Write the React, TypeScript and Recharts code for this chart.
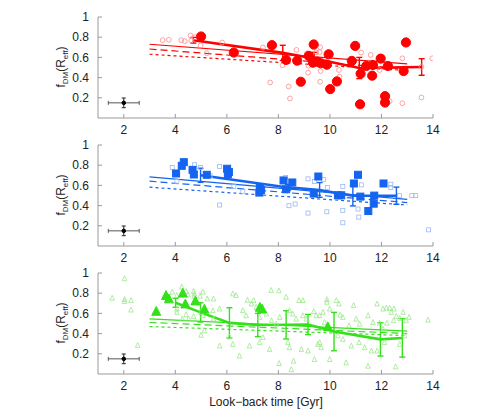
import React from "react"
import { ComposedChart, Scatter, Line, XAxis, YAxis, ErrorBar } from "recharts"

type Pt = [number, number]

const xTicks = [2, 4, 6, 8, 10, 12, 14]
const yTicks = [0.2, 0.4, 0.6, 0.8, 1]

// typical uncertainty marker (same in all panels)
const typicalPoint = [{ x: 2, y: 0.15, ex: 0.6, ey: 0.048 }]

// ---- red panel ----
const redFilled: Pt[] = [
  [5.0, 0.807], [6.27, 0.648], [7.75, 0.721], [8.3, 0.575], [8.73, 0.568], [8.87, 0.359],
  [9.18, 0.615], [9.37, 0.728], [9.34, 0.548], [9.51, 0.558], [9.64, 0.542], [9.88, 0.528],
  [9.95, 0.631], [10.01, 0.286], [10.27, 0.362], [10.98, 0.714], [10.85, 0.565], [11.19, 0.439],
  [11.17, 0.136], [11.41, 0.515], [11.67, 0.525], [11.64, 0.419], [11.97, 0.588], [12.14, 0.216],
  [12.14, 0.153], [12.25, 0.515], [12.86, 0.465], [12.95, 0.748],
]
const redOpen: Pt[] = [
  [3.51, 0.771], [3.75, 0.774], [4.23, 0.771], [4.37, 0.761], [4.59, 0.817], [4.62, 0.767],
  [4.76, 0.801], [4.98, 0.718], [5.22, 0.641], [5.82, 0.748], [7.4, 0.698], [7.68, 0.352],
  [8.16, 0.522], [8.4, 0.312], [8.45, 0.193], [8.7, 0.674], [9.11, 0.641], [9.15, 0.449],
  [9.17, 0.518], [9.37, 0.701], [9.47, 0.651], [9.62, 0.701], [9.6, 0.651], [9.64, 0.465],
  [9.62, 0.359], [10.35, 0.475], [10.37, 0.409], [11.21, 0.648], [11.58, 0.625], [11.93, 0.475],
  [12.32, 0.166], [12.81, 0.591], [12.81, 0.146], [13.55, 0.203], [13.97, 0.591], [13.55, 0.508],
]
const redBinX = [4.7, 8.17, 9.39, 11.14, 13.56]
const redBinY = [0.77, 0.645, 0.59, 0.495, 0.505]
const redBinErr = [0.028, 0.075, 0.06, 0.105, 0.082]
const redFitSolid: Pt[] = [[3, 0.73], [13, 0.535]]
const redFitLong: Pt[] = [[3, 0.683], [13, 0.485]]
const redFitShort: Pt[] = [[3, 0.631], [13, 0.47]]

// ---- blue panel ----
const blueFilled: Pt[] = [
  [4.03, 0.718], [4.25, 0.794], [4.33, 0.83], [4.67, 0.754], [4.72, 0.708], [5.22, 0.705],
  [6.01, 0.765], [6.08, 0.732], [6.04, 0.712], [7.28, 0.579], [7.33, 0.555], [7.26, 0.529],
  [8.2, 0.649], [8.3, 0.562], [8.54, 0.629], [9.37, 0.519], [9.55, 0.688], [10.31, 0.502],
  [10.44, 0.502], [10.93, 0.619], [11.09, 0.705], [11.18, 0.489], [11.49, 0.346], [11.72, 0.499],
  [11.7, 0.419], [12.08, 0.619],
]
const blueOpen: Pt[] = [
  [3.88, 0.778], [4.06, 0.638], [4.75, 0.805], [4.98, 0.778], [5.35, 0.695], [5.72, 0.788],
  [5.72, 0.406], [6.27, 0.589], [6.62, 0.539], [8.28, 0.678], [8.41, 0.399], [8.65, 0.416],
  [9.15, 0.665], [9.15, 0.326], [9.4, 0.638], [9.75, 0.658], [9.88, 0.339], [9.9, 0.579],
  [10.5, 0.589], [10.5, 0.353], [10.5, 0.23], [11.09, 0.366], [11.12, 0.286], [11.22, 0.605],
  [12.36, 0.612], [12.36, 0.579], [12.7, 0.499], [13.18, 0.499], [13.33, 0.499], [13.83, 0.16],
]
const blueBinX = [4.98, 8.37, 9.6, 10.89, 12.58]
const blueBinY = [0.7, 0.58, 0.555, 0.497, 0.498]
const blueBinErr = [0.07, 0.03, 0.073, 0.1, 0.085]
const blueFitSolid: Pt[] = [[3, 0.685], [13, 0.462]]
const blueFitLong: Pt[] = [[3, 0.642], [13, 0.43]]
const blueFitShort: Pt[] = [[3, 0.582], [13, 0.406]]

// ---- green panel ----
const greenFilled: Pt[] = [
  [3.26, 0.62], [3.64, 0.777], [3.75, 0.743], [4.29, 0.8], [4.39, 0.693], [4.78, 0.723],
  [5.13, 0.643], [7.28, 0.66], [7.37, 0.643], [9.92, 0.467],
]
const greenOpen: Pt[] = [
  [2.03, 0.943], [1.55, 0.75], [2.03, 0.737], [2.03, 0.717], [2.28, 0.727], [3.88, 0.81],
  [4.25, 0.86], [4.06, 0.777], [4.42, 0.817], [4.5, 0.783], [4.71, 0.817], [4.74, 0.793],
  [4.74, 0.77], [4.96, 0.77], [5.07, 0.81], [5.24, 0.743], [5.48, 0.743], [6.23, 0.793],
  [6.36, 0.777], [6.8, 0.73], [7.04, 0.727], [7.72, 0.827], [8.02, 0.823], [8.3, 0.76],
  [8.8, 0.727], [8.95, 0.727], [9.88, 0.737], [9.88, 0.71], [10.25, 0.727], [10.35, 0.693],
  [10.92, 0.677], [11.83, 0.693], [12.06, 0.643], [12.19, 0.653], [12.32, 0.65], [12.38, 0.61],
  [12.49, 0.643], [13.07, 0.56], [13.81, 0.533],
  [2.28, 0.633], [4.06, 0.643], [4.06, 0.61], [4.27, 0.543], [4.52, 0.543], [4.71, 0.57],
  [4.42, 0.587], [5.0, 0.61], [5.07, 0.577], [5.46, 0.627], [5.48, 0.543], [5.72, 0.643],
  [6.62, 0.627], [6.75, 0.577], [6.95, 0.693], [7.14, 0.66], [7.27, 0.56], [7.53, 0.593],
  [7.73, 0.527], [7.92, 0.493], [8.05, 0.56], [8.43, 0.627], [8.56, 0.593], [8.69, 0.543],
  [8.95, 0.577], [9.08, 0.543], [9.37, 0.617], [9.47, 0.577], [9.6, 0.577], [9.73, 0.61],
  [9.79, 0.51], [9.99, 0.643], [10.4, 0.583], [10.5, 0.56], [10.74, 0.477], [11.02, 0.543],
  [11.15, 0.493], [11.48, 0.577], [11.67, 0.51], [11.93, 0.503], [12.06, 0.443], [12.21, 0.503],
  [12.47, 0.527], [12.58, 0.57], [12.71, 0.55], [12.84, 0.61], [12.96, 0.527],
  [2.54, 0.283], [5.0, 0.383], [5.13, 0.427], [5.72, 0.277], [6.1, 0.367], [6.23, 0.293],
  [6.49, 0.177], [6.88, 0.277], [7.27, 0.31], [7.4, 0.36], [7.66, 0.243], [8.03, 0.103],
  [8.37, 0.31], [8.43, 0.26], [8.59, 0.127], [8.5, 0.043], [8.89, 0.243], [9.15, 0.227],
  [9.4, 0.143], [9.53, 0.293], [9.6, 0.31], [9.66, 0.26], [9.99, 0.143], [10.31, 0.377],
  [10.5, 0.343], [10.63, 0.11], [10.83, 0.277], [11.13, 0.31], [11.35, 0.26], [11.48, 0.077],
  [11.61, 0.227], [11.83, 0.227], [12.12, 0.31], [12.55, 0.07], [12.71, 0.293], [12.9, 0.377],
]
const greenBinX = [4.01, 4.98, 6.1, 7.2, 8.3, 9.15, 10.16, 11.96, 12.81]
const greenBinY = [0.705, 0.61, 0.506, 0.485, 0.487, 0.49, 0.42, 0.343, 0.357]
const greenBinErr = [0.045, 0.095, 0.15, 0.115, 0.14, 0.1, 0.19, 0.165, 0.19]
const greenFitSolid: Pt[] = [[3, 0.545], [13, 0.425]]
const greenFitLong: Pt[] = [[3, 0.51], [13, 0.4]]
const greenFitShort: Pt[] = [[3, 0.47], [13, 0.38]]

const toXY = (pts: Pt[]) => pts.map(([x, y]) => ({ x, y }))
const toBins = (xs: number[], ys: number[], errs: number[]) =>
  xs.map((x, i) => ({ x, y: ys[i], err: errs[i] }))

const font = "'Liberation Sans', Arial, sans-serif"
const noTick = () => <g />

const circleShape = (r: number, fill: string, stroke: string, sw = 1) => (p: any) =>
  <circle cx={p.cx} cy={p.cy} r={r} fill={fill} stroke={stroke} strokeWidth={sw} />
const squareShape = (s: number, fill: string, stroke: string, sw = 1) => (p: any) =>
  <rect x={p.cx - s / 2} y={p.cy - s / 2} width={s} height={s} fill={fill} stroke={stroke} strokeWidth={sw} />
const triangleShape = (s: number, fill: string, stroke: string, sw = 1) => (p: any) => {
  const h = s * 0.87
  return (
    <polygon
      points={`${p.cx},${p.cy - h / 2 - 1} ${p.cx - s / 2},${p.cy + h / 2} ${p.cx + s / 2},${p.cy + h / 2}`}
      fill={fill}
      stroke={stroke}
      strokeWidth={sw}
    />
  )
}

interface PanelProps {
  top: number
  color: string
  filled: Pt[]
  open: Pt[]
  bins: { x: number; y: number; err: number }[]
  fits: Pt[][]
  filledShape: any
  openShape: any
}

function Panel({ top, color, filled, open, bins, fits, filledShape, openShape }: PanelProps) {
  return (
    <div style={{ position: "absolute", left: 0, top: top - 10 }}>
      <ComposedChart width={499} height={131} margin={{ top: 10, right: 66, bottom: 0, left: 58 }}>
        <XAxis
          dataKey="x"
          type="number"
          domain={[1, 14]}
          ticks={xTicks}
          interval={0}
          allowDataOverflow
          height={20}
          stroke="#9a9a9a"
          tickSize={-4}
          tickMargin={11}
          tick={{ fill: "#222", fontSize: 12, fontFamily: font }}
        />
        <XAxis xAxisId="top" orientation="top" type="number" domain={[1, 14]} ticks={xTicks}
          height={0} stroke="#9a9a9a" tickSize={-4} tick={noTick} />
        <YAxis
          dataKey="y"
          type="number"
          domain={[0, 1]}
          ticks={yTicks}
          interval={0}
          allowDataOverflow
          width={40}
          stroke="#9a9a9a"
          tickSize={-4}
          tickMargin={13}
          tick={{ fill: "#222", fontSize: 12, fontFamily: font }}
        />
        <YAxis yAxisId="right" orientation="right" type="number" domain={[0, 1]} ticks={yTicks}
          width={0} stroke="#9a9a9a" tickSize={-4} tick={noTick} />

        <Scatter data={toXY(open)} shape={openShape} isAnimationActive={false} />
        <Line data={toXY(fits[0])} dataKey="y" stroke={color} strokeWidth={1.2} dot={false} isAnimationActive={false} />
        <Line data={toXY(fits[1])} dataKey="y" stroke={color} strokeWidth={1.2} strokeDasharray="7 4" dot={false} isAnimationActive={false} />
        <Line data={toXY(fits[2])} dataKey="y" stroke={color} strokeWidth={1.2} strokeDasharray="3 3" dot={false} isAnimationActive={false} />
        <Scatter data={toXY(filled)} shape={filledShape} isAnimationActive={false} />
        <Line data={bins} dataKey="y" stroke={color} strokeWidth={2.6} dot={false} isAnimationActive={false}>
          <ErrorBar dataKey="err" direction="y" width={3} stroke={color} strokeWidth={1.4} />
        </Line>
        <Scatter data={typicalPoint} shape={circleShape(1.8, "#000", "#000")} isAnimationActive={false}>
          <ErrorBar dataKey="ex" direction="x" width={2} stroke="#555" strokeWidth={1} />
          <ErrorBar dataKey="ey" direction="y" width={2} stroke="#222" strokeWidth={1} />
        </Scatter>
      </ComposedChart>
    </div>
  )
}

function YTitle({ cy }: { cy: number }) {
  return (
    <div
      style={{
        position: "absolute",
        left: 62,
        top: cy,
        transform: "translate(-50%, -50%) rotate(-90deg)",
        whiteSpace: "nowrap",
        fontFamily: font,
        fontSize: 12,
        color: "#222",
      }}
    >
      f<sub style={{ fontSize: 8 }}>DM</sub>(R<sub style={{ fontSize: 8 }}>eff</sub>)
    </div>
  )
}

export default function App() {
  const red = "#ff0000"
  const blue = "#1464f0"
  const green = "#33e01a"
  return (
    <div style={{ position: "absolute", left: 0, top: 0, width: 499, height: 419, background: "#fff" }}>
      <Panel
        top={17}
        color={red}
        filled={redFilled}
        open={redOpen}
        bins={toBins(redBinX, redBinY, redBinErr)}
        fits={[redFitSolid, redFitLong, redFitShort]}
        filledShape={circleShape(4.6, red, red)}
        openShape={circleShape(2.4, "none", "#ff8a8a", 0.8)}
      />
      <Panel
        top={145}
        color={blue}
        filled={blueFilled}
        open={blueOpen}
        bins={toBins(blueBinX, blueBinY, blueBinErr)}
        fits={[blueFitSolid, blueFitLong, blueFitShort]}
        filledShape={squareShape(7, blue, blue)}
        openShape={squareShape(4, "none", "#9ab8f5", 0.8)}
      />
      <Panel
        top={273}
        color={green}
        filled={greenFilled}
        open={greenOpen}
        bins={toBins(greenBinX, greenBinY, greenBinErr)}
        fits={[greenFitSolid, greenFitLong, greenFitShort]}
        filledShape={triangleShape(9, green, green)}
        openShape={triangleShape(4.5, "none", "#9be88a", 0.8)}
      />
      <YTitle cy={67} />
      <YTitle cy={195} />
      <YTitle cy={323} />
      <div
        style={{
          position: "absolute",
          left: 266,
          top: 402,
          transform: "translate(-50%, -50%)",
          whiteSpace: "nowrap",
          fontFamily: font,
          fontSize: 12,
          color: "#222",
        }}
      >
        Look−back time [Gyr]
      </div>
    </div>
  )
}
